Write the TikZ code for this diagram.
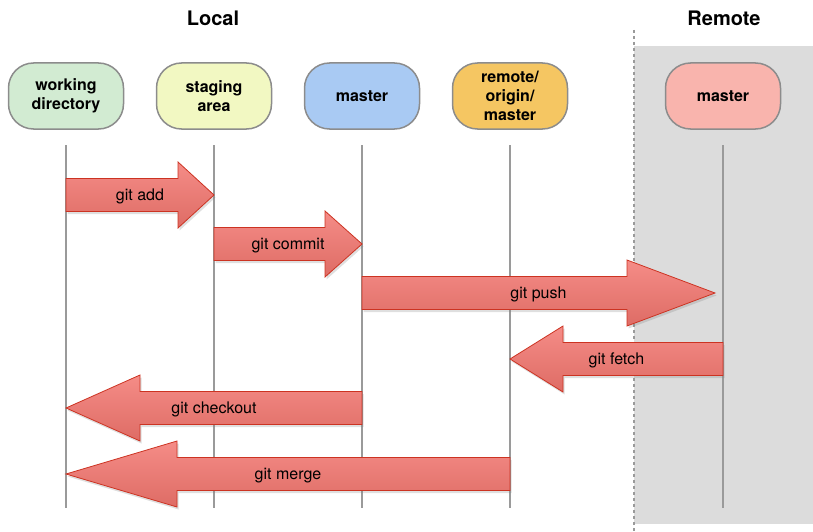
\documentclass[tikz,border=0pt]{standalone}
\usepackage{fontspec}
\setmainfont{TeX Gyre Heros}
\usetikzlibrary{ % tikz packages
    positioning,calc,shadows
}
\definecolor{wdgreen}{HTML}{D2EBD2}
\definecolor{stageyellow}{HTML}{F2F8C2}
\definecolor{masterblue}{HTML}{A9CAF3}
\definecolor{originorange}{HTML}{F5C662}
\definecolor{remotepink}{HTML}{F9B4AD}
\definecolor{headgray}{HTML}{8C8C8C}
\definecolor{linegray}{HTML}{9A9A9A}
\definecolor{remotebg}{HTML}{DCDCDC}
\definecolor{arrowred}{HTML}{CC3322}
\definecolor{arrowtop}{HTML}{F58C87}
\definecolor{arrowbot}{HTML}{DE6C65}
\tikzset{branch/.style={
    draw=headgray, line width=1.5pt,
    rounded corners=25pt,
    minimum width=115pt, minimum height=66pt,
    inner sep=2pt, align=center,
    font=\bfseries\fontsize{16}{19}\selectfont
}}
\tikzset{lifeline/.style={draw=linegray, line width=2pt}}
\tikzset{fat arrow/.style={
    draw=arrowred, line width=0.8pt,
    top color=arrowtop, bottom color=arrowbot,
    drop shadow={shadow xshift=1.5pt, shadow yshift=-2.5pt, opacity=0.25}
}}
\tikzset{cmd/.style={font=\fontsize{16}{19}\selectfont, yshift=-1.5pt}}
\tikzset{side/.style={font=\bfseries\fontsize{20}{24}\selectfont}}
% start, tip, head length, label
\newcommand{\fatarrow}[4]{
    \draw[fat arrow]
        ($(#1)+(0,-16.5)$) -- ($(#2)!#3!(#1)+(0,-16.5)$)
        -- ($(#2)!#3!(#1)+(0,-33)$) -- (#2)
        -- ($(#2)!#3!(#1)+(0,33)$) -- ($(#2)!#3!(#1)+(0,16.5)$)
        -- ($(#1)+(0,16.5)$) -- cycle;
    \path (#1) -- node[cmd] {#4} (#2);
}

\begin{document}
\begin{tikzpicture}[x=1pt,y=-1pt,node distance=148pt,on grid]
        \useasboundingbox (0,0) rectangle (813,532);

        \fill[remotebg] (634,46) rectangle (813,524);
        \draw[linegray, line width=2pt, dash pattern=on 3pt off 3pt] (634,30) -- (634,532);

        \node[side] (local) at (213,18) {Local};
        \node[side] (remotetitle) at (724,18) {Remote};

        \node[branch, fill=wdgreen] (wd) at (66,96) {working\\directory};
        \node[branch, fill=stageyellow] (stage) [right=of wd] {staging\\area};
        \node[branch, fill=masterblue] (master) [right=of stage] {master};
        \node[branch, fill=originorange] (origin) [right=of master] {remote/\\origin/\\master};
        \node[branch, fill=remotepink] (remote) [right=213pt of origin] {master};

        \foreach \n in {wd,stage,master,origin,remote}
            \draw[lifeline] (\n |- 0,145) -- (\n |- 0,508);

        \coordinate (add-s) at (wd |- 0,195);
        \coordinate (add-t) at (stage |- 0,195);
        \coordinate (commit-s) at (stage |- 0,244);
        \coordinate (commit-t) at (master |- 0,244);
        \coordinate (push-s) at (master |- 0,293);
        \coordinate (push-t) at ($(remote |- 0,293)+(-8,0)$);
        \coordinate (fetch-s) at (remote |- 0,359);
        \coordinate (fetch-t) at (origin |- 0,359);
        \coordinate (checkout-s) at (master |- 0,408);
        \coordinate (checkout-t) at (wd |- 0,408);
        \coordinate (merge-s) at (origin |- 0,474);
        \coordinate (merge-t) at (wd |- 0,474);

        \fatarrow{add-s}{add-t}{36pt}{git add}
        \fatarrow{commit-s}{commit-t}{37pt}{git commit}
        \fatarrow{push-s}{push-t}{88pt}{git push}
        \fatarrow{fetch-s}{fetch-t}{53pt}{git fetch}
        \fatarrow{checkout-s}{checkout-t}{74pt}{git checkout}
        \fatarrow{merge-s}{merge-t}{111pt}{git merge}
    \end{tikzpicture}
\end{document}
